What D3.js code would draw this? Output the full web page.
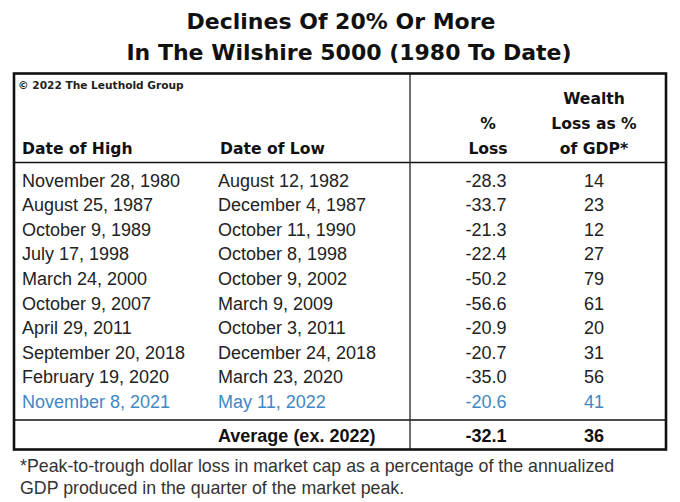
<!DOCTYPE html>
<html>
<head>
<meta charset="utf-8">
<script src="https://cdn.jsdelivr.net/npm/d3@7"></script>
<style>
  html, body { margin: 0; padding: 0; background: #fff; }
  svg { display: block; }
</style>
</head>
<body>
<div id="chart"></div>
<script>
// ---- data ----
const titleLines = ["Declines Of 20% Or More", "In The Wilshire 5000 (1980 To Date)"];
const copyright = "© 2022 The Leuthold Group";
const headerHigh = ["Date of High"];
const headerLow = ["Date of Low"];
const headerLoss = ["%", "Loss"];
const headerWealth = ["Wealth", "Loss as %", "of GDP*"];
const datesHigh = ["November 28, 1980", "August 25, 1987", "October 9, 1989", "July 17, 1998",
  "March 24, 2000", "October 9, 2007", "April 29, 2011", "September 20, 2018",
  "February 19, 2020", "November 8, 2021"];
const datesLow = ["August 12, 1982", "December 4, 1987", "October 11, 1990", "October 8, 1998",
  "October 9, 2002", "March 9, 2009", "October 3, 2011", "December 24, 2018",
  "March 23, 2020", "May 11, 2022"];
const pctLoss = [-28.3, -33.7, -21.3, -22.4, -50.2, -56.6, -20.9, -20.7, -35.0, -20.6];
const wealthLoss = [14, 23, 12, 27, 79, 61, 20, 31, 56, 41];
const highlightRow = [false, false, false, false, false, false, false, false, false, true];
const averageLabel = "Average (ex. 2022)";
const averageLoss = -32.1;
const averageWealth = 36;
const footnoteLines = ["*Peak-to-trough dollar loss in market cap as a percentage of the annualized",
  "GDP produced in the quarter of the market peak."];

// ---- layout ----
const W = 680, H = 502;
const svg = d3.select("#chart").append("svg").attr("width", W).attr("height", H);

const box = { left: 14, right: 666, top: 73.5, bottom: 449.5, headerLine: 162.5, avgLine: 420, divider: 410 };

// columns
const colX = d3.scaleOrdinal()
  .domain(["high", "low", "loss", "wealth"])
  .range([22, 218, 486, 594]);
// rows
const rowY = d3.scaleLinear().domain([0, datesHigh.length - 1]).range([186.5, 408]);
const headY = d3.scaleLinear().domain([0, 2]).range([104, 154]);

const ink = "#111";
const textCol = "#222";
const blue = "#3f87c5";
const headFont = "'DejaVu Sans', Verdana, sans-serif";
const bodyFont = "'Liberation Sans', Arial, sans-serif";

// title
svg.append("g").selectAll("text").data(titleLines).join("text")
  .attr("x", (d, i) => i === 0 ? 341 : 349)
  .attr("y", (d, i) => i === 0 ? 28.5 : 60)
  .attr("text-anchor", "middle")
  .attr("font-family", headFont).attr("font-weight", "bold").attr("font-size", 22)
  .attr("fill", ink).text(d => d);

// table lines
const g = svg.append("g");
g.append("line").attr("x1", box.left).attr("x2", box.right).attr("y1", box.headerLine).attr("y2", box.headerLine)
  .attr("stroke", ink).attr("stroke-width", 1.6);
g.append("line").attr("x1", box.left).attr("x2", box.right).attr("y1", box.avgLine).attr("y2", box.avgLine)
  .attr("stroke", ink).attr("stroke-width", 1.6);
g.append("line").attr("x1", box.divider).attr("x2", box.divider).attr("y1", box.top).attr("y2", box.bottom)
  .attr("stroke", "#333").attr("stroke-width", 1.4);
g.append("rect").attr("x", box.left).attr("y", box.top)
  .attr("width", box.right - box.left).attr("height", box.bottom - box.top)
  .attr("fill", "none").attr("stroke", ink).attr("stroke-width", 2.6);

// copyright
svg.append("text").attr("x", 18).attr("y", 89)
  .attr("font-family", headFont).attr("font-weight", "bold").attr("font-size", 10.6)
  .attr("fill", "#222").text(copyright);

// headers
const hdr = svg.append("g").attr("font-family", headFont).attr("font-weight", "bold")
  .attr("font-size", 15.6).attr("fill", ink);
hdr.selectAll(".hh").data(headerHigh).join("text").attr("x", colX("high")).attr("y", headY(2)).text(d => d);
hdr.selectAll(".hl").data(headerLow).join("text").attr("x", colX("low") + 2).attr("y", headY(2)).text(d => d);
hdr.selectAll(".hp").data(headerLoss).join("text").attr("class", "hp")
  .attr("x", colX("loss") + 2).attr("y", (d, i) => headY(i + 1)).attr("text-anchor", "middle").text(d => d);
hdr.selectAll(".hw").data(headerWealth).join("text").attr("class", "hw")
  .attr("x", colX("wealth")).attr("y", (d, i) => headY(i)).attr("text-anchor", "middle").text(d => d);

// rows
const rows = svg.append("g").attr("font-family", bodyFont).attr("font-size", 18)
  .selectAll("g").data(datesHigh.map((d, i) => i)).join("g")
  .attr("fill", i => highlightRow[i] ? blue : textCol);
rows.append("text").attr("x", colX("high")).attr("y", i => rowY(i)).text(i => datesHigh[i]);
rows.append("text").attr("x", colX("low")).attr("y", i => rowY(i)).text(i => datesLow[i]);
rows.append("text").attr("x", colX("loss")).attr("y", i => rowY(i)).attr("text-anchor", "middle")
  .text(i => d3.format(".1f")(pctLoss[i]).replace("−", "-"));
rows.append("text").attr("x", colX("wealth")).attr("y", i => rowY(i)).attr("text-anchor", "middle")
  .text(i => wealthLoss[i]);

// average row
const avg = svg.append("g").attr("font-family", bodyFont).attr("font-size", 18)
  .attr("font-weight", "bold").attr("fill", ink);
avg.append("text").attr("x", colX("low")).attr("y", 441.5).text(averageLabel);
avg.append("text").attr("x", colX("loss")).attr("y", 441.5).attr("text-anchor", "middle")
  .text(d3.format(".1f")(averageLoss).replace("−", "-"));
avg.append("text").attr("x", colX("wealth")).attr("y", 441.5).attr("text-anchor", "middle").text(averageWealth);

// footnote
svg.append("g").selectAll("text").data(footnoteLines).join("text")
  .attr("x", 20).attr("y", (d, i) => 472 + i * 21.5)
  .attr("font-family", bodyFont).attr("font-size", 17.8).attr("fill", "#333").text(d => d);
</script>
</body>
</html>
